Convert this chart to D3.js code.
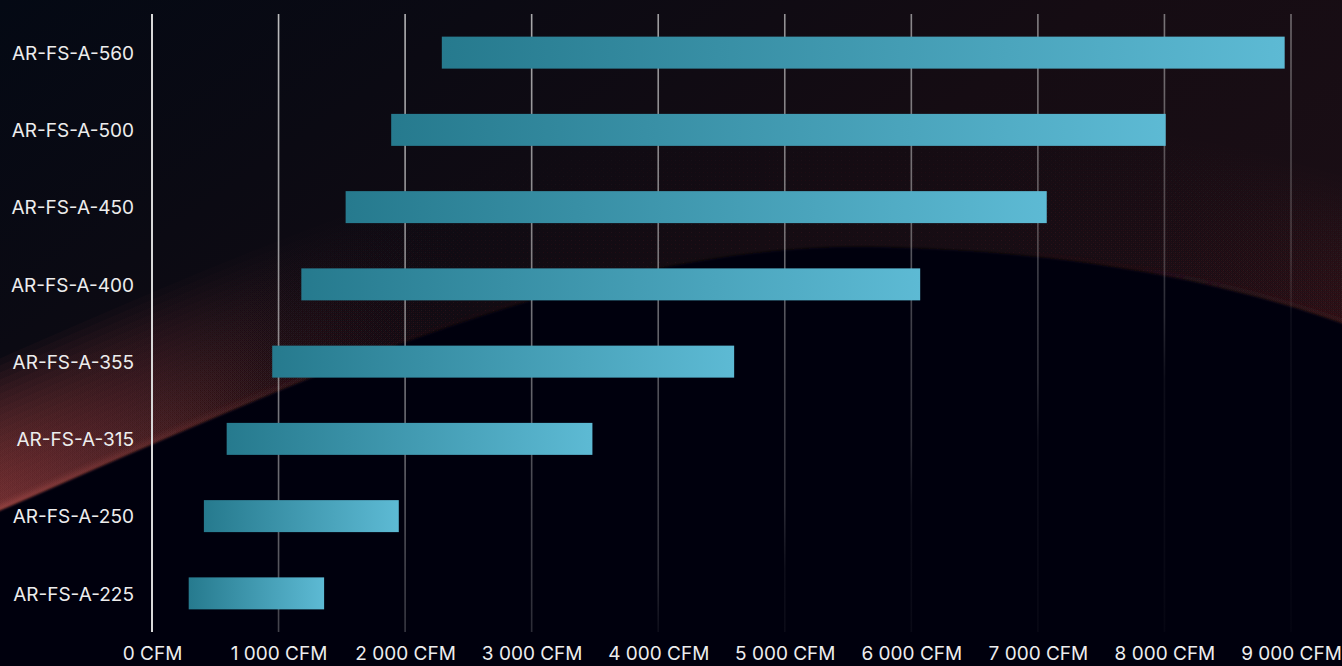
<!DOCTYPE html>
<html>
<head>
<meta charset="utf-8">
<script src="https://cdn.jsdelivr.net/npm/d3@7"></script>
<style>
  html, body { margin: 0; padding: 0; background: #05070d; overflow: hidden; }
  svg { display: block; }
</style>
</head>
<body>
<svg id="chart" width="1342" height="666"></svg>
<script>
// Airflow range per fan model (CFM), top row first
const models  = ["AR-FS-A-560", "AR-FS-A-500", "AR-FS-A-450", "AR-FS-A-400",
                 "AR-FS-A-355", "AR-FS-A-315", "AR-FS-A-250", "AR-FS-A-225"];
const minFlow = [2290, 1890, 1530, 1180, 950, 590, 410, 290];
const maxFlow = [8950, 8010, 7070, 6070, 4600, 3480, 1950, 1360];
const flowTicks = [0, 1000, 2000, 3000, 4000, 5000, 6000, 7000, 8000, 9000];
const unitLabel = "CFM";

const W = 1342, H = 666;
const margin = { top: 14, right: 51, bottom: 34, left: 152 };

const svg = d3.select("#chart");
const defs = svg.append("defs");

// ---------- backdrop ----------
const sky = defs.append("linearGradient").attr("id", "sky")
  .attr("x1", 0).attr("y1", 0).attr("x2", 1).attr("y2", 0.7);
[[0, "#040914"], [0.25, "#0b0a13"], [0.55, "#150c13"], [1, "#1d0f16"]]
  .forEach(([o, c]) => sky.append("stop").attr("offset", o).attr("stop-color", c));

// warm light rising from the horizon, strongest on the far left
const glowFill = defs.append("linearGradient").attr("id", "glowFill")
  .attr("gradientUnits", "userSpaceOnUse")
  .attr("x1", 0).attr("y1", 0).attr("x2", W).attr("y2", 0);
[[0, "#8e3a3a", 0.9], [0.1, "#6e2e30", 0.65], [0.22, "#4a2226", 0.3], [0.35, "#2a131a", 0.05],
 [0.7, "#2a131a", 0.04], [0.85, "#34171c", 0.14], [1, "#4a1e22", 0.3]]
  .forEach(([o, c, a]) => glowFill.append("stop").attr("offset", o).attr("stop-color", c).attr("stop-opacity", a));

const rimFill = defs.append("linearGradient").attr("id", "rimFill")
  .attr("gradientUnits", "userSpaceOnUse")
  .attr("x1", 0).attr("y1", 0).attr("x2", W).attr("y2", 0);
[[0, "#a04846", 0.8], [0.12, "#7a3434", 0.45], [0.3, "#3a1a1d", 0.1], [0.7, "#2a1217", 0.0], [1, "#4a2024", 0.3]]
  .forEach(([o, c, a]) => rimFill.append("stop").attr("offset", o).attr("stop-color", c).attr("stop-opacity", a));

defs.append("filter").attr("id", "rimBlur")
  .attr("filterUnits", "userSpaceOnUse")
  .attr("x", -400).attr("y", -200).attr("width", 2200).attr("height", 1100)
  .append("feGaussianBlur").attr("stdDeviation", 2.5);
defs.append("filter").attr("id", "edgeSoft")
  .attr("filterUnits", "userSpaceOnUse")
  .attr("x", -400).attr("y", -200).attr("width", 2200).attr("height", 1300)
  .append("feGaussianBlur").attr("stdDeviation", 1);

const hillEdge = "M-200,600 C-100,560 -10,515 -10,515 C300,380 600,240 880,247 C1100,252 1250,290 1352,327 C1420,352 1500,380 1560,400";
const hillShape = hillEdge + " L1560,900 L-200,900 Z";

svg.append("rect").attr("width", W).attr("height", H).attr("fill", "url(#sky)");

// stacked translucent strokes give a smooth falloff above the horizon
svg.append("g").attr("class", "glow")
  .selectAll("path")
  .data(d3.range(22))
  .join("path")
  .attr("d", hillEdge)
  .attr("fill", "none")
  .attr("stroke", "url(#glowFill)")
  .attr("stroke-opacity", 0.075)
  .attr("stroke-width", k => 6 + k * 13);

svg.append("path").attr("d", hillEdge).attr("fill", "none")
  .attr("stroke", "url(#rimFill)").attr("stroke-width", 6)
  .attr("filter", "url(#rimBlur)").attr("transform", "translate(0,-2)");

const hillGrad = defs.append("linearGradient").attr("id", "hillGrad")
  .attr("x1", 0).attr("y1", 0).attr("x2", 0).attr("y2", 1);
[[0, "#030409"], [1, "#06070e"]]
  .forEach(([o, c]) => hillGrad.append("stop").attr("offset", o).attr("stop-color", c));
svg.append("path").attr("d", hillShape).attr("fill", "url(#hillGrad)").attr("filter", "url(#edgeSoft)");

// ---------- scales ----------
const x = d3.scaleLinear()
  .domain([0, 9000])
  .range([margin.left, W - margin.right]);

const y = d3.scaleBand()
  .domain(models)
  .range([margin.top, H - margin.bottom])
  .paddingInner(0.586)
  .paddingOuter(0.293);

const fmt = d3.formatLocale({ decimal: ".", thousands: " ", grouping: [3], currency: ["", ""] }).format(",");

// ---------- gridlines ----------
const gridGrad = defs.append("linearGradient").attr("id", "gridGrad")
  .attr("gradientUnits", "userSpaceOnUse")
  .attr("x1", margin.left).attr("y1", margin.top)
  .attr("x2", margin.left + 475).attr("y2", margin.top + 950);
[[0, 0.9], [0.053, 0.85], [0.48, 0.45], [0.574, 0.3], [0.68, 0.2], [0.733, 0.06], [1, 0.02]]
  .forEach(([o, a]) => gridGrad.append("stop").attr("offset", o)
    .attr("stop-color", "#dcdcdc").attr("stop-opacity", a));

svg.append("g").attr("class", "grid")
  .selectAll("line")
  .data(flowTicks.slice(1))
  .join("line")
  .attr("x1", d => x(d)).attr("x2", d => x(d))
  .attr("y1", margin.top).attr("y2", H - margin.bottom)
  .attr("stroke", "url(#gridGrad)")
  .attr("stroke-width", 1.6);

// baseline axis at zero
svg.append("line")
  .attr("x1", x(0)).attr("x2", x(0))
  .attr("y1", margin.top).attr("y2", H - margin.bottom)
  .attr("stroke", "#d8d8d8").attr("stroke-width", 2);

// ---------- bars ----------
const barGrad = defs.append("linearGradient").attr("id", "barGrad")
  .attr("x1", 0).attr("y1", 0).attr("x2", 1).attr("y2", 0);
barGrad.append("stop").attr("offset", 0).attr("stop-color", "#267a8e");
barGrad.append("stop").attr("offset", 1).attr("stop-color", "#5dbad4");

svg.append("g").attr("class", "bars")
  .selectAll("rect")
  .data(models)
  .join("rect")
  .attr("x", (d, i) => x(minFlow[i]))
  .attr("width", (d, i) => x(maxFlow[i]) - x(minFlow[i]))
  .attr("y", d => y(d))
  .attr("height", y.bandwidth())
  .attr("fill", "url(#barGrad)");

// ---------- axes ----------
const yAxis = svg.append("g")
  .attr("transform", `translate(${margin.left},0)`)
  .call(d3.axisLeft(y).tickSize(0).tickPadding(18));
yAxis.select(".domain").remove();
yAxis.selectAll("text")
  .attr("fill", "#ededed")
  .attr("dy", "0.38em")
  .style("font-family", "Inter, 'Noto Sans', sans-serif")
  .style("font-size", "19px");

const xAxis = svg.append("g")
  .attr("transform", `translate(0,${H - margin.bottom})`)
  .call(d3.axisBottom(x).tickValues(flowTicks).tickSize(0).tickPadding(15)
    .tickFormat(d => `${fmt(d)} ${unitLabel}`));
xAxis.select(".domain").remove();
xAxis.selectAll("text")
  .attr("fill", "#ededed")
  .style("font-family", "Inter, 'Noto Sans', sans-serif")
  .style("font-size", "19px");
</script>
</body>
</html>
